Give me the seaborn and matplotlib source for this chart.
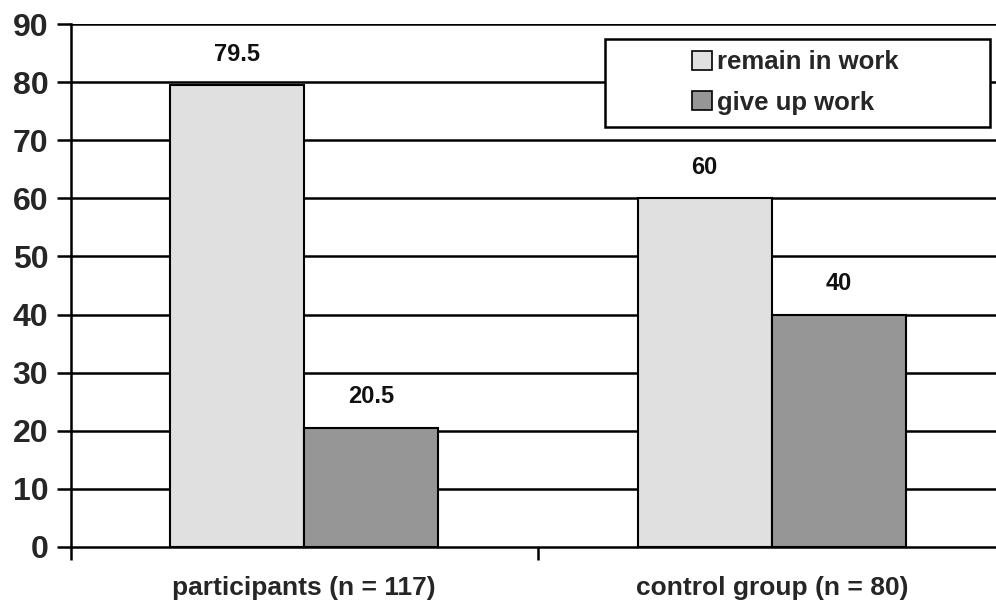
import matplotlib
matplotlib.use("Agg")
import matplotlib.pyplot as plt
import seaborn as sns
import pandas as pd
from matplotlib.patches import Patch, Rectangle

groups = ["participants (n = 117)", "control group (n = 80)"]
outcomes = ["remain in work", "give up work"]
remain_values = [79.5, 60]
giveup_values = [20.5, 40]
value_labels_remain = ["79.5", "60"]
value_labels_giveup = ["20.5", "40"]
y_ticks = [0, 10, 20, 30, 40, 50, 60, 70, 80, 90]

colors = {"remain in work": "#e0e0e0", "give up work": "#969696"}

df = pd.DataFrame({
    "group": groups * 2,
    "outcome": [outcomes[0]] * 2 + [outcomes[1]] * 2,
    "value": remain_values + giveup_values,
})

sns.set_theme(style="white")
plt.rcParams["font.family"] = ["Liberation Sans", "DejaVu Sans"]
plt.rcParams["font.weight"] = "bold"

W, H = 996, 603
fig = plt.figure(figsize=(W / 100, H / 100), dpi=100)
ax = fig.add_axes([70.5 / W, 56 / H, 935 / W, 523 / H])

sns.barplot(data=df, x="group", y="value", hue="outcome", order=groups,
            hue_order=outcomes, palette=colors, width=0.574, dodge=True,
            edgecolor="black", linewidth=1.5, saturation=1, ax=ax,
            legend=False, zorder=3)

# horizontal gridlines
for t in y_ticks[1:]:
    ax.axhline(t, color="black", lw=1.8, zorder=1)

ax.set_ylim(0, 90)
ax.set_xlim(-0.5, 1.5)
ax.set_yticks(y_ticks)
ax.set_yticklabels([str(t) for t in y_ticks], fontsize=23, fontweight="bold")
ax.tick_params(axis="y", direction="out", length=10, width=1.8, color="black",
               pad=6, left=True)

# category boundary ticks on x, labels in between
ax.set_xticks([-0.5, 0.5, 1.5])
ax.set_xticklabels(["", "", ""])
ax.tick_params(axis="x", which="major", direction="out", length=9, width=1.8,
               color="black", bottom=True)
ax.set_xticks([0, 1], minor=True)
ax.set_xticklabels(groups, minor=True, fontsize=19, fontweight="bold")
ax.tick_params(axis="x", which="minor", length=0, pad=21)
ax.set_xlabel("")
ax.set_ylabel("")

for side in ["top", "right"]:
    ax.spines[side].set_visible(False)
for side in ["left", "bottom"]:
    ax.spines[side].set_color("black")
    ax.spines[side].set_linewidth(1.8)
    ax.spines[side].set_zorder(4)

for container, labels in zip(ax.containers, [value_labels_remain, value_labels_giveup]):
    ax.bar_label(container, labels=labels, padding=14, fontsize=17,
                 fontweight="bold", color="#111111")

# legend box with a fixed frame
box_x0, box_y0, box_x1, box_y1 = 605, 39, 990, 127
fig.patches.append(Rectangle((box_x0 / W, 1 - box_y1 / H),
                             (box_x1 - box_x0) / W, (box_y1 - box_y0) / H,
                             transform=fig.transFigure, facecolor="white",
                             edgecolor="black", lw=1.8, zorder=5))
handles = [Patch(facecolor=colors[o], edgecolor="black", lw=1.2) for o in outcomes]
leg = fig.legend(handles, outcomes, loc="center",
                 bbox_to_anchor=((box_x0 + box_x1) / 2 / W - 0.002, 1 - (box_y0 + box_y1 - 1) / 2 / H),
                 bbox_transform=fig.transFigure, frameon=False,
                 prop={"weight": "bold", "size": 18.5}, handlelength=0.75,
                 handleheight=0.75, handletextpad=0.2, labelspacing=0.65,
                 borderpad=0, borderaxespad=0)
leg.set_zorder(6)

fig.savefig("out.png", dpi=100, facecolor="white")
